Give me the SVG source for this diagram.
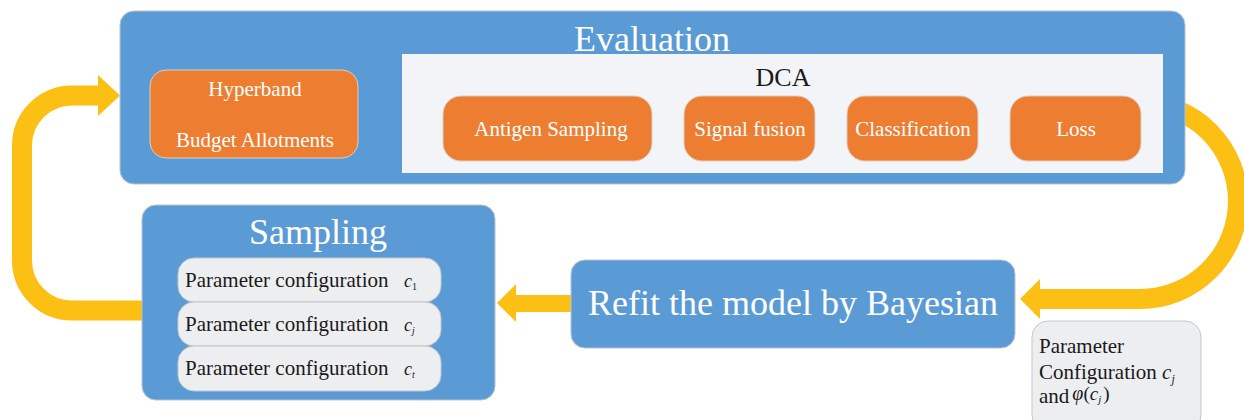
<svg xmlns="http://www.w3.org/2000/svg" width="1244" height="420" viewBox="0 0 1244 420">
<defs>
<style>
.blue{fill:#5B9BD5;stroke:#B7C3CF;stroke-width:1}
.orange{fill:#ED7D31;stroke:#D9CFC7;stroke-width:1}
.gray{fill:#EDEEF0;stroke:#C4C6C9;stroke-width:1}
.panel{fill:#F3F4F7}
.band{fill:none;stroke:#FCBF14;stroke-width:20}
.arr{fill:#FCBF14}
.w{font-family:"Liberation Serif","Times New Roman",serif;fill:#FFFFFF}
.k{font-family:"Liberation Serif","Times New Roman",serif;fill:#1A1A1A}
.t36{font-size:36px}
.t21{font-size:21px}
.it{font-style:italic}
</style>
</defs>
<g id="connectors">
<path class="band" d="M 145 310.5 H 72 A 50 50 0 0 1 22 260.5 V 145.5 A 50 50 0 0 1 72 95.5 H 100"/>
<polygon class="arr" points="98,75 120,95.5 98,116"/>
<path class="band" d="M 1140 103 A 97 97 0 0 1 1140 299 H 1038"/>
<polygon class="arr" points="1040,279 1020,299 1040,319"/>
<polygon class="arr" points="571,295 516,295 516,284 497,303 516,322 516,312 571,312"/>
<polygon class="arr" points="358,106 384,106 384,97 402,114.5 384,132 384,123 358,123"/>
<polygon class="arr" points="652,120 667,120 667,111 684,128.5 667,146 667,137 652,137"/>
<polygon class="arr" points="815,120 830,120 830,111 847,128.5 830,146 830,137 815,137"/>
<polygon class="arr" points="978,120 993,120 993,111 1010,128.5 993,146 993,137 978,137"/>
</g>
<g id="evaluation">
<rect class="blue" x="120" y="11" width="1065" height="173" rx="14"/>
<text class="w t36" x="652" y="51" text-anchor="middle">Evaluation</text>
</g>
<g id="dca">
<rect class="panel" x="402" y="54" width="761" height="119"/>
<text class="k" x="783" y="86" font-size="26" text-anchor="middle">DCA</text>
</g>
<g id="hyperband">
<rect class="orange" x="150" y="70" width="208" height="88" rx="16"/>
<text class="w t21" x="255" y="96" text-anchor="middle">Hyperband</text>
<text class="w t21" x="255" y="147" text-anchor="middle">Budget Allotments</text>
</g>
<g id="antigen">
<rect class="orange" x="443" y="96" width="209" height="65" rx="18"/>
<text class="w t21" x="551" y="136" text-anchor="middle">Antigen Sampling</text>
</g>
<g id="signal">
<rect class="orange" x="684" y="96" width="131" height="65" rx="18"/>
<text class="w t21" x="750" y="136" text-anchor="middle">Signal fusion</text>
</g>
<g id="classification">
<rect class="orange" x="847" y="96" width="131" height="65" rx="18"/>
<text class="w t21" x="913" y="136" text-anchor="middle">Classification</text>
</g>
<g id="loss">
<rect class="orange" x="1010" y="96" width="131" height="65" rx="18"/>
<text class="w t21" x="1076" y="136" text-anchor="middle">Loss</text>
</g>
<g id="sampling">
<rect class="blue" x="142" y="205" width="353" height="195" rx="14"/>
<text class="w t36" x="318" y="244" text-anchor="middle">Sampling</text>
<rect class="gray" x="178" y="258" width="263" height="44" rx="16"/>
<text class="k t21" x="185" y="287">Parameter configuration</text>
<text class="k it" x="404" y="287" font-size="18">c<tspan font-size="10" dy="3" font-style="normal">1</tspan></text>
<rect class="gray" x="178" y="302" width="263" height="44" rx="16"/>
<text class="k t21" x="185" y="331">Parameter configuration</text>
<text class="k it" x="404" y="331" font-size="18">c<tspan font-size="10" dy="3">j</tspan></text>
<rect class="gray" x="178" y="346" width="263" height="45" rx="16"/>
<text class="k t21" x="185" y="375">Parameter configuration</text>
<text class="k it" x="404" y="375" font-size="18">c<tspan font-size="10" dy="3">t</tspan></text>
</g>
<g id="refit">
<rect class="blue" x="571" y="260" width="444" height="88" rx="14"/>
<text class="w t36" x="793" y="315" text-anchor="middle">Refit the model by Bayesian</text>
</g>
<g id="param-note">
<rect class="gray" x="1032" y="321" width="169" height="110" rx="16"/>
<text class="k t21" x="1039" y="353">Parameter</text>
<text class="k t21" x="1039" y="379">Configuration <tspan class="it">c</tspan><tspan class="it" font-size="12" dy="4">j</tspan></text>
<text class="k t21" x="1039" y="403">and<tspan class="it" font-size="20" dx="3" dy="-3">φ</tspan><tspan font-size="19">(</tspan><tspan class="it" font-size="19">c</tspan><tspan class="it" font-size="11" dy="3">j</tspan><tspan font-size="19" dx="2" dy="-3">)</tspan></text>
</g>
</svg>
